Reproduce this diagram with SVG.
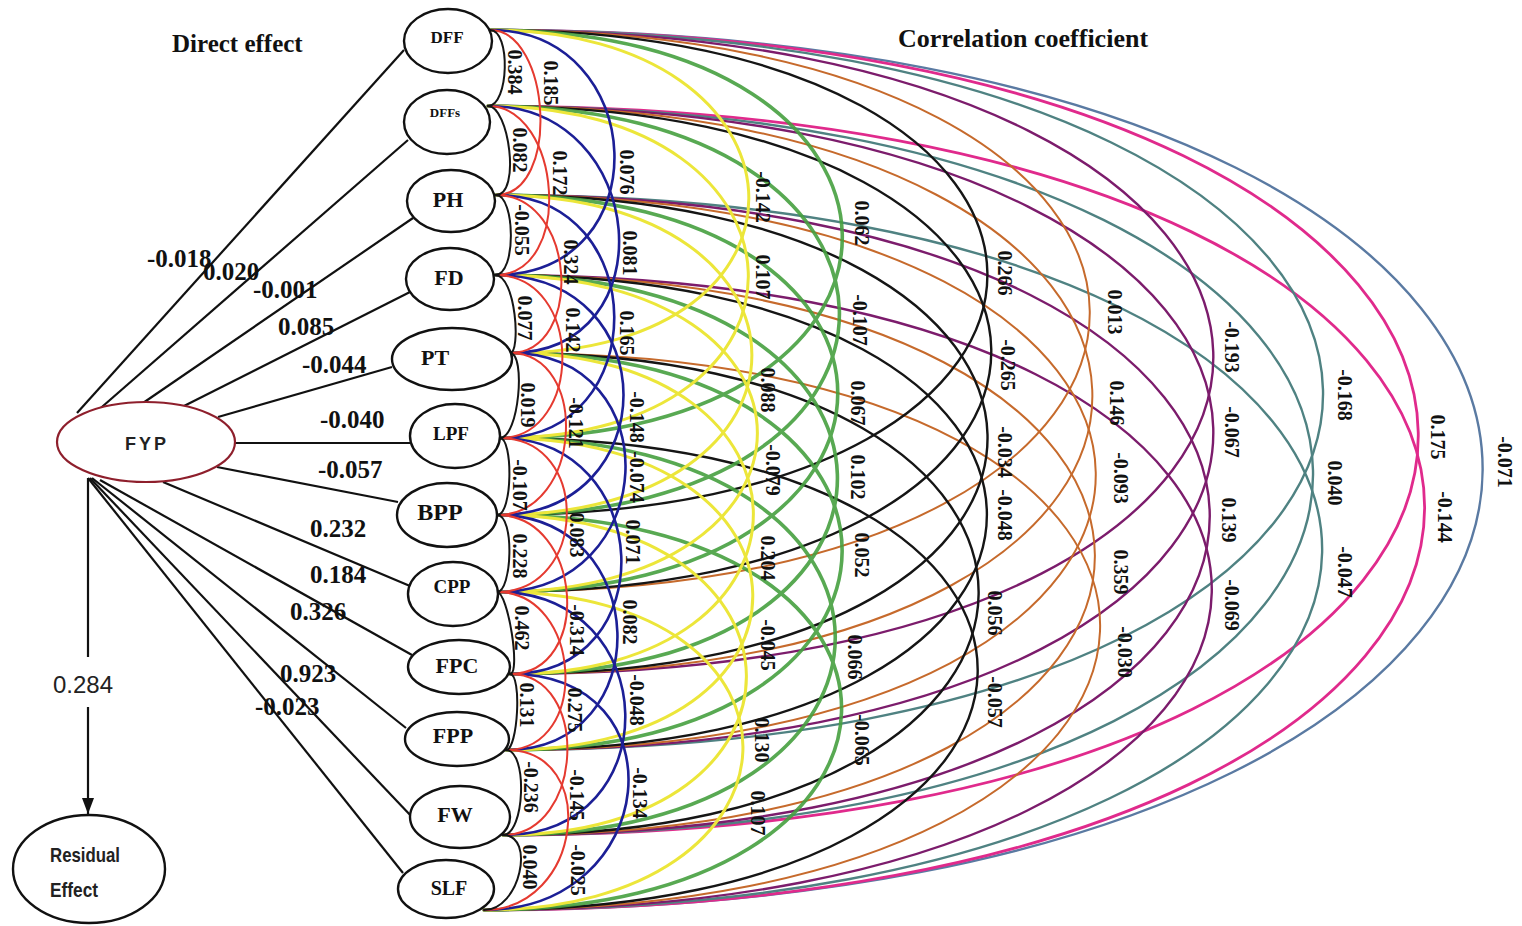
<svg xmlns="http://www.w3.org/2000/svg" width="1522" height="926" viewBox="0 0 1522 926">
  <style>
    .bg { fill: #ffffff; }
    .node { fill: #ffffff; stroke: #111111; stroke-width: 2.4; }
    .root { fill: #ffffff; stroke: #8e1f2c; stroke-width: 2.2; }
    .path { fill: none; stroke: #111111; stroke-width: 2.2; }
    .arc { fill: none; stroke-linecap: round; }
    .s1 { stroke: #151515; stroke-width: 2; }
    .s2 { stroke: #e53a30; stroke-width: 2; }
    .s3 { stroke: #1c1f96; stroke-width: 2.6; }
    .s4 { stroke: #ece63a; stroke-width: 3; }
    .s5 { stroke: #46a040; stroke-width: 3.6; opacity: 0.9; }
    .s6 { stroke: #151515; stroke-width: 2.4; }
    .s7 { stroke: #c66a2c; stroke-width: 2; }
    .s8 { stroke: #7c1c6c; stroke-width: 2.4; }
    .s9 { stroke: #4f8282; stroke-width: 2.4; }
    .s10 { stroke: #e02a8c; stroke-width: 2.8; }
    .s11 { stroke: #5a7aa2; stroke-width: 2.4; }
    .nl { font-family: "Liberation Serif", "Times New Roman", serif; font-weight: bold; fill: #111111; text-anchor: middle; }
    .pl { font-family: "Liberation Serif", "Times New Roman", serif; font-weight: bold; font-size: 25px; fill: #111111; }
    .cl { font-family: "Liberation Serif", "Times New Roman", serif; font-weight: bold; font-size: 20px; fill: #111111; text-anchor: middle; dominant-baseline: central; }
    .title { font-family: "Liberation Serif", "Times New Roman", serif; font-weight: bold; fill: #111111; }
    .sans { font-family: "Liberation Sans", Arial, sans-serif; fill: #222222; }
  </style>
  <defs>
    <marker id="arrow" viewBox="0 0 16 12" refX="16" refY="6" markerWidth="16" markerHeight="12" markerUnits="userSpaceOnUse" orient="auto">
      <path d="M0,0 L16,6 L0,12 Z" fill="#111111"/>
    </marker>
  </defs>

  <rect class="bg" x="0" y="0" width="1522" height="926"/>

  <!-- headings -->
  <text class="title" x="172" y="52" font-size="25">Direct effect</text>
  <text class="title" x="898" y="47" font-size="26">Correlation coefficient</text>

  <g id="connectors">
    <!-- direct effects from FYP -->
    <g id="direct-effects">
      <line class="path" x1="77" y1="413" x2="404" y2="50"/>
      <line class="path" x1="95" y1="413" x2="408" y2="140"/>
      <line class="path" x1="143" y1="403" x2="413" y2="218"/>
      <line class="path" x1="182" y1="407" x2="410" y2="292"/>
      <line class="path" x1="218" y1="417" x2="392" y2="367"/>
      <line class="path" x1="235" y1="443" x2="410" y2="443"/>
      <line class="path" x1="217" y1="467" x2="398" y2="502"/>
      <line class="path" x1="163" y1="482" x2="410" y2="586"/>
      <line class="path" x1="100" y1="480" x2="412" y2="655"/>
      <line class="path" x1="92" y1="478" x2="406" y2="728"/>
      <line class="path" x1="90" y1="478" x2="413" y2="818"/>
      <line class="path" x1="88" y1="478" x2="403" y2="873"/>
      <!-- residual -->
      <line class="path" x1="88" y1="478" x2="88" y2="657"/>
      <line class="path" x1="88" y1="707" x2="88" y2="814" marker-end="url(#arrow)"/>
    </g>

    <!-- correlation arcs, grouped by distance between traits -->
    <g id="correlations">
      <g class="arc s11">
        <path d="M490,30 C1816,30 1813,910 484,910"/>
      </g>
      <g class="arc s10">
        <path d="M490,30 C1719,30 1732,835 503,835"/>
        <path d="M488,106 C1738,106 1737,910 484,910"/>
      </g>
      <g class="arc s9">
        <path d="M490,30 C1590,30 1606,750 506,750"/>
        <path d="M488,106 C1578,106 1593,835 503,835"/>
        <path d="M496,195 C1606,195 1593,910 484,910"/>
      </g>
      <g class="arc s8">
        <path d="M490,30 C1441,30 1461,674 510,674"/>
        <path d="M488,106 C1443,106 1461,750 506,750"/>
        <path d="M496,195 C1445,195 1448,835 503,835"/>
        <path d="M495,275 C1460,275 1445,910 484,910"/>
      </g>
      <g class="arc s7">
        <path d="M490,30 C1285,30 1292,592 497,592"/>
        <path d="M488,106 C1279,106 1301,674 510,674"/>
        <path d="M496,195 C1291,195 1297,750 506,750"/>
        <path d="M495,275 C1293,275 1294,835 503,835"/>
        <path d="M510,353 C1311,353 1291,910 484,910"/>
      </g>
      <g class="arc s6">
        <path d="M490,30 C1147,30 1157,515 497,515"/>
        <path d="M488,106 C1153,106 1162,592 497,592"/>
        <path d="M496,195 C1144,195 1154,674 510,674"/>
        <path d="M495,275 C1147,275 1151,750 506,750"/>
        <path d="M510,353 C1138,353 1134,835 503,835"/>
        <path d="M500,438 C1146,438 1133,910 484,910"/>
      </g>
      <g class="arc s5">
        <path d="M490,30 C953,30 963,438 500,438"/>
        <path d="M488,106 C949,106 961,515 497,515"/>
        <path d="M496,195 C953,195 950,592 497,592"/>
        <path d="M495,275 C945,275 953,674 510,674"/>
        <path d="M510,353 C954,353 953,750 506,750"/>
        <path d="M500,438 C945,438 948,835 503,835"/>
        <path d="M497,515 C965,515 952,910 484,910"/>
      </g>
      <g class="arc s4">
        <path d="M490,30 C823,30 840,353 510,353"/>
        <path d="M488,106 C827,106 839,438 500,438"/>
        <path d="M496,195 C837,195 837,515 497,515"/>
        <path d="M495,275 C847,275 842,592 497,592"/>
        <path d="M510,353 C833,353 836,674 510,674"/>
        <path d="M500,438 C833,438 839,750 506,750"/>
        <path d="M497,515 C827,515 830,835 503,835"/>
        <path d="M497,592 C832,592 822,910 484,910"/>
      </g>
      <g class="arc s3">
        <path d="M490,30 C649,30 661,275 495,275"/>
        <path d="M488,106 C649,106 668,353 510,353"/>
        <path d="M496,195 C653,195 653,438 500,438"/>
        <path d="M495,275 C667,275 665,515 497,515"/>
        <path d="M510,353 C671,353 661,592 497,592"/>
        <path d="M500,438 C655,438 665,674 510,674"/>
        <path d="M497,515 C653,515 659,750 506,750"/>
        <path d="M497,592 C664,592 670,835 503,835"/>
        <path d="M510,674 C683,674 660,910 484,910"/>
      </g>
      <g class="arc s2">
        <path d="M490,30 C551,30 561,195 496,195"/>
        <path d="M488,106 C561,106 575,275 495,275"/>
        <path d="M496,195 C577,195 584,353 510,353"/>
        <path d="M495,275 C585,275 583,438 500,438"/>
        <path d="M510,353 C590,353 583,515 497,515"/>
        <path d="M500,438 C591,438 588,592 497,592"/>
        <path d="M497,515 C583,515 593,674 510,674"/>
        <path d="M497,592 C582,592 591,750 506,750"/>
        <path d="M510,674 C591,674 584,835 503,835"/>
        <path d="M506,750 C601,750 582,910 484,910"/>
      </g>
      <g class="arc s1">
        <path d="M490,30 C511,30 509,106 488,106"/>
        <path d="M488,106 C509,106 521,195 496,195"/>
        <path d="M496,195 C515,195 517,275 495,275"/>
        <path d="M495,275 C516,275 521,353 510,353"/>
        <path d="M510,353 C526,353 519,438 500,438"/>
        <path d="M500,438 C513,438 513,515 497,515"/>
        <path d="M497,515 C515,515 512,592 497,592"/>
        <path d="M497,592 C508,592 521,674 510,674"/>
        <path d="M510,674 C522,674 518,750 506,750"/>
        <path d="M506,750 C528,750 525,835 503,835"/>
        <path d="M503,835 C536,835 520,910 484,910"/>
      </g>
    </g>
  </g>

  <!-- coefficient labels -->
  <g id="direct-labels">
    <text class="pl" x="147" y="267">-0.018</text>
    <text class="pl" x="203" y="280">0.020</text>
    <text class="pl" x="253" y="298">-0.001</text>
    <text class="pl" x="278" y="335">0.085</text>
    <text class="pl" x="302" y="373">-0.044</text>
    <text class="pl" x="320" y="428">-0.040</text>
    <text class="pl" x="318" y="478">-0.057</text>
    <text class="pl" x="310" y="537">0.232</text>
    <text class="pl" x="310" y="583">0.184</text>
    <text class="pl" x="290" y="620">0.326</text>
    <text class="pl" x="280" y="682">0.923</text>
    <text class="pl" x="255" y="715">-0.023</text>
    <text class="sans" x="83" y="693" font-size="24" text-anchor="middle">0.284</text>
  </g>

  <g id="correlation-labels">
    <!-- adjacent traits -->
    <text class="cl" transform="translate(515,72) rotate(90)">0.384</text>
    <text class="cl" transform="translate(520,150) rotate(90)">0.082</text>
    <text class="cl" transform="translate(522,230) rotate(90)">-0.055</text>
    <text class="cl" transform="translate(525,318) rotate(90)">0.077</text>
    <text class="cl" transform="translate(528,405) rotate(90)">0.019</text>
    <text class="cl" transform="translate(520,485) rotate(90)">-0.107</text>
    <text class="cl" transform="translate(520,556) rotate(90)">0.228</text>
    <text class="cl" transform="translate(522,628) rotate(90)">0.462</text>
    <text class="cl" transform="translate(527,705) rotate(90)">0.131</text>
    <text class="cl" transform="translate(531,787) rotate(90)">-0.236</text>
    <text class="cl" transform="translate(530,867) rotate(90)">0.040</text>
    <!-- two apart -->
    <text class="cl" transform="translate(551,83) rotate(90)">0.185</text>
    <text class="cl" transform="translate(560,173) rotate(90)">0.172</text>
    <text class="cl" transform="translate(571,262) rotate(90)">0.324</text>
    <text class="cl" transform="translate(573,330) rotate(90)">0.142</text>
    <text class="cl" transform="translate(576,423) rotate(90)">-0.121</text>
    <text class="cl" transform="translate(577,535) rotate(90)">0.083</text>
    <text class="cl" transform="translate(577,630) rotate(90)">-0.314</text>
    <text class="cl" transform="translate(575,710) rotate(90)">0.275</text>
    <text class="cl" transform="translate(577,795) rotate(90)">-0.145</text>
    <text class="cl" transform="translate(578,870) rotate(90)">-0.025</text>
    <!-- three apart -->
    <text class="cl" transform="translate(627,172) rotate(90)">0.076</text>
    <text class="cl" transform="translate(630,253) rotate(90)">0.081</text>
    <text class="cl" transform="translate(627,333) rotate(90)">0.165</text>
    <text class="cl" transform="translate(637,417) rotate(90)">-0.148</text>
    <text class="cl" transform="translate(637,477) rotate(90)">-0.074</text>
    <text class="cl" transform="translate(633,542) rotate(90)">0.071</text>
    <text class="cl" transform="translate(630,622) rotate(90)">0.082</text>
    <text class="cl" transform="translate(637,700) rotate(90)">-0.048</text>
    <text class="cl" transform="translate(640,793) rotate(90)">-0.134</text>
    <!-- four apart -->
    <text class="cl" transform="translate(763,197) rotate(90)">-0.142</text>
    <text class="cl" transform="translate(763,277) rotate(90)">0.107</text>
    <text class="cl" transform="translate(768,390) rotate(90)">0.088</text>
    <text class="cl" transform="translate(773,470) rotate(90)">-0.079</text>
    <text class="cl" transform="translate(768,558) rotate(90)">0.204</text>
    <text class="cl" transform="translate(768,645) rotate(90)">-0.045</text>
    <text class="cl" transform="translate(762,740) rotate(90)">0.130</text>
    <text class="cl" transform="translate(758,813) rotate(90)">0.107</text>
    <!-- five apart -->
    <text class="cl" transform="translate(862,223) rotate(90)">0.062</text>
    <text class="cl" transform="translate(860,320) rotate(90)">-0.107</text>
    <text class="cl" transform="translate(858,403) rotate(90)">0.067</text>
    <text class="cl" transform="translate(858,477) rotate(90)">0.102</text>
    <text class="cl" transform="translate(862,555) rotate(90)">0.052</text>
    <text class="cl" transform="translate(855,657) rotate(90)">0.066</text>
    <text class="cl" transform="translate(862,740) rotate(90)">-0.065</text>
    <!-- six apart -->
    <text class="cl" transform="translate(1005,273) rotate(90)">0.266</text>
    <text class="cl" transform="translate(1008,365) rotate(90)">-0.265</text>
    <text class="cl" transform="translate(1005,452) rotate(90)">-0.034</text>
    <text class="cl" transform="translate(1005,515) rotate(90)">-0.048</text>
    <text class="cl" transform="translate(995,613) rotate(90)">0.056</text>
    <text class="cl" transform="translate(995,702) rotate(90)">-0.057</text>
    <!-- seven apart -->
    <text class="cl" transform="translate(1115,312) rotate(90)">0.013</text>
    <text class="cl" transform="translate(1117,403) rotate(90)">0.146</text>
    <text class="cl" transform="translate(1121,478) rotate(90)">-0.093</text>
    <text class="cl" transform="translate(1121,572) rotate(90)">0.359</text>
    <text class="cl" transform="translate(1125,652) rotate(90)">-0.030</text>
    <!-- eight apart -->
    <text class="cl" transform="translate(1232,347) rotate(90)">-0.193</text>
    <text class="cl" transform="translate(1232,432) rotate(90)">-0.067</text>
    <text class="cl" transform="translate(1229,520) rotate(90)">0.139</text>
    <text class="cl" transform="translate(1232,605) rotate(90)">-0.069</text>
    <!-- nine apart -->
    <text class="cl" transform="translate(1345,395) rotate(90)">-0.168</text>
    <text class="cl" transform="translate(1335,483) rotate(90)">0.040</text>
    <text class="cl" transform="translate(1345,572) rotate(90)">-0.047</text>
    <!-- ten and eleven apart -->
    <text class="cl" transform="translate(1438,437) rotate(90)">0.175</text>
    <text class="cl" transform="translate(1445,517) rotate(90)">-0.144</text>
    <text class="cl" transform="translate(1505,462) rotate(90)">-0.071</text>
  </g>

  <!-- nodes -->
  <g id="node-FYP">
    <ellipse class="root" cx="146" cy="442" rx="89" ry="40"/>
    <text class="sans" x="147" y="450" font-size="18" font-weight="bold" letter-spacing="3" text-anchor="middle" fill="#3a3a3a">FYP</text>
  </g>
  <g id="node-Residual">
    <ellipse class="node" cx="89" cy="869" rx="76" ry="54" stroke-width="2"/>
    <text class="sans" x="50" y="862" font-size="21" font-weight="bold" textLength="70" lengthAdjust="spacingAndGlyphs">Residual</text>
    <text class="sans" x="50" y="897" font-size="21" font-weight="bold" textLength="48" lengthAdjust="spacingAndGlyphs">Effect</text>
  </g>
  <g id="node-DFF">
    <ellipse class="node" cx="448" cy="41" rx="44" ry="32"/>
    <text class="nl" x="447" y="43" font-size="17">DFF</text>
  </g>
  <g id="node-DFFs">
    <ellipse class="node" cx="447" cy="122" rx="43" ry="32"/>
    <text class="nl" x="445" y="117" font-size="13">DFFs</text>
  </g>
  <g id="node-PH">
    <ellipse class="node" cx="451" cy="201" rx="44" ry="31"/>
    <text class="nl" x="448" y="207" font-size="22">PH</text>
  </g>
  <g id="node-FD">
    <ellipse class="node" cx="450" cy="279" rx="44" ry="31"/>
    <text class="nl" x="449" y="285" font-size="22">FD</text>
  </g>
  <g id="node-PT">
    <ellipse class="node" cx="452" cy="359" rx="60" ry="31"/>
    <text class="nl" x="435" y="365" font-size="22">PT</text>
  </g>
  <g id="node-LPF">
    <ellipse class="node" cx="455" cy="436" rx="45" ry="32"/>
    <text class="nl" x="451" y="440" font-size="19" font-weight="normal">LPF</text>
  </g>
  <g id="node-BPP">
    <ellipse class="node" cx="447" cy="515" rx="50" ry="32"/>
    <text class="nl" x="440" y="520" font-size="24">BPP</text>
  </g>
  <g id="node-CPP">
    <ellipse class="node" cx="453" cy="594" rx="45" ry="32"/>
    <text class="nl" x="452" y="593" font-size="19" font-weight="normal" fill="#5a2626">CPP</text>
  </g>
  <g id="node-FPC">
    <ellipse class="node" cx="459" cy="667" rx="51" ry="27"/>
    <text class="nl" x="457" y="673" font-size="22">FPC</text>
  </g>
  <g id="node-FPP">
    <ellipse class="node" cx="457" cy="739" rx="52" ry="27"/>
    <text class="nl" x="453" y="743" font-size="22">FPP</text>
  </g>
  <g id="node-FW">
    <ellipse class="node" cx="460" cy="817" rx="50" ry="31"/>
    <text class="nl" x="455" y="822" font-size="22">FW</text>
  </g>
  <g id="node-SLF">
    <ellipse class="node" cx="446" cy="889" rx="48" ry="29"/>
    <text class="nl" x="449" y="895" font-size="20">SLF</text>
  </g>
</svg>
